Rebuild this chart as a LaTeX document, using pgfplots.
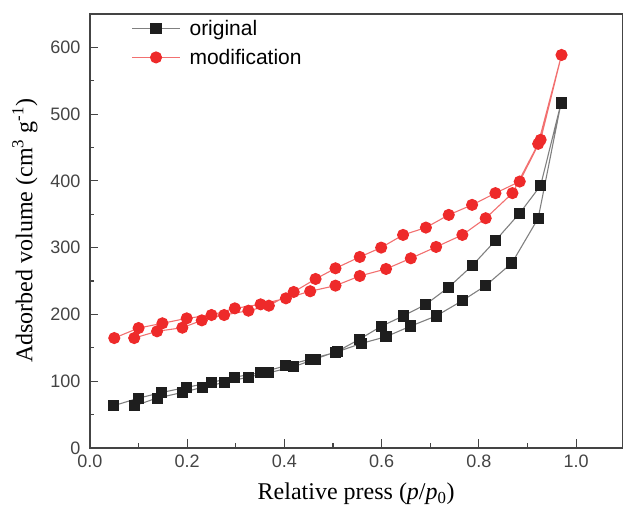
\documentclass[border=0pt]{standalone}
\usepackage{fontspec}
\setmainfont{Liberation Sans}
\newfontfamily\seriffont{Liberation Serif}
\usepackage{pgfplots}
\pgfplotsset{compat=1.18}
\definecolor{sqblk}{HTML}{1E1E1E}
\definecolor{lgray}{HTML}{808080}
\definecolor{cred}{HTML}{EE2A2A}
\definecolor{lred}{HTML}{F27070}
\definecolor{axgray}{HTML}{444444}
\begin{document}
\begin{tikzpicture}
\begin{axis}[
  width=532.5pt, height=434pt, scale only axis,
  xmin=0, xmax=1.095, ymin=0, ymax=650,
  xtick={0,0.2,0.4,0.6,0.8,1.0}, ytick={0,100,...,600},
  minor x tick num=1, minor y tick num=1,
  xtick pos=bottom, ytick pos=left,
  tick align=inside,
  major tick length=8.5pt, minor tick length=4.5pt,
  /pgf/number format/assume math mode=true,
  xticklabel style={/pgf/number format/fixed, /pgf/number format/fixed zerofill,
    /pgf/number format/precision=1, yshift=-4pt},
  tick label style={font=\fontsize{18}{20}\selectfont, text=axgray},
  yticklabel style={xshift=-6pt},
  axis line style={axgray, line width=1.4pt},
  every tick/.style={axgray, line width=1.2pt},
  every axis x label/.style={at={(axis description cs:0.5,0)}, yshift=-46pt, anchor=center,
    font=\seriffont\fontsize{24}{28}\selectfont},
  every axis y label/.style={at={(axis description cs:0,0.5)}, xshift=-65pt, rotate=90, anchor=center,
    font=\seriffont\fontsize{24}{28}\selectfont},
  xlabel={Relative press (\textit{p}/\textit{p}\textsubscript{0})},
  ylabel={Adsorbed volume (cm\textsuperscript{3} g\textsuperscript{-1})},
  legend style={at={(0.072,0.995)}, anchor=north west, draw=none, fill=none,
    font=\fontsize{21}{24}\selectfont, row sep=8pt, inner ysep=2pt},
  legend cell align=left,
  legend image code/.code={\draw[mark repeat=2,mark phase=2] plot coordinates {(0pt,0pt) (24pt,0pt) (48pt,0pt)};
    \path (55pt,0pt);},
]
\addplot[lgray, line width=1.1pt, mark=square*, mark size=5pt,
  mark options={solid, fill=sqblk, draw=sqblk}] coordinates {
  (0.048,63) (0.100,74.5) (0.148,83) (0.198,90.6) (0.250,98) (0.298,106)
  (0.350,112.5) (0.403,123) (0.453,133) (0.505,143) (0.559,156.6) (0.609,166.5)
  (0.660,182.5) (0.712,197.5) (0.766,220.5) (0.814,243) (0.868,277) (0.922,344)
  (0.969,516.6)
  (0.927,393) (0.884,351.6) (0.834,310.5) (0.787,273.6) (0.738,240.6) (0.691,215)
  (0.644,197.5) (0.599,182) (0.555,163) (0.510,145) (0.463,133) (0.419,121.5)
  (0.368,112.5) (0.326,106) (0.276,98) (0.231,90.6) (0.190,83) (0.138,74.5)
  (0.091,63)
};
\addlegendentry{original}
\addplot[lred, line width=1.1pt, mark=*, mark size=5.5pt,
  mark options={solid, fill=cred, draw=cred}] coordinates {
  (0.050,164.5) (0.100,179.5) (0.149,186.6) (0.199,194) (0.250,199) (0.298,209)
  (0.351,215) (0.403,224) (0.453,234.6) (0.505,243) (0.555,257.5) (0.609,268)
  (0.660,284) (0.712,301) (0.766,319) (0.814,344) (0.869,381.6) (0.922,455.5)
  (0.970,588.6)
  (0.927,461.5) (0.884,399) (0.834,381.6) (0.786,364) (0.738,349) (0.691,330)
  (0.644,319) (0.599,300) (0.555,286) (0.505,269) (0.464,253) (0.419,233.5)
  (0.368,213) (0.326,205.5) (0.276,199) (0.230,191) (0.190,180) (0.138,174.6)
  (0.091,164.5)
};
\addlegendentry{modification}
\end{axis}
\path (current axis.south west) ++(-90pt,-71pt);
\path (current axis.north east) ++(0.7pt,14pt);
\end{tikzpicture}
\end{document}
